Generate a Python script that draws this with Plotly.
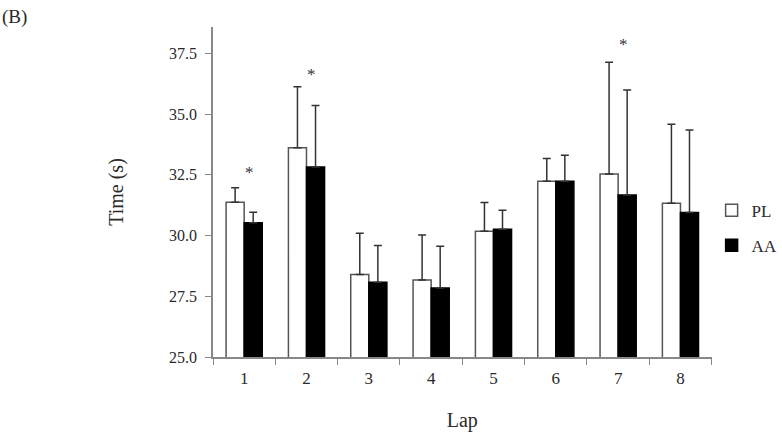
import plotly.graph_objects as go

# Lap times (s), mean and upper SD
laps = ["1", "2", "3", "4", "5", "6", "7", "8"]
pl_mean = [31.37, 33.62, 28.40, 28.17, 30.18, 32.24, 32.54, 31.33]
pl_sd = [0.60, 2.51, 1.70, 1.85, 1.18, 0.93, 4.60, 3.26]
aa_mean = [30.53, 32.82, 28.08, 27.84, 30.26, 32.24, 31.67, 30.95]
aa_sd = [0.43, 2.54, 1.51, 1.72, 0.78, 1.07, 4.33, 3.40]

# significance markers (*)
sig_laps = ["1", "2", "7"]
sig_y = [32.6, 36.65, 37.85]

serif = "Liberation Serif, Times New Roman, serif"
txt = "#2a2a2a"

fig = go.Figure()

fig.add_trace(go.Bar(
    x=laps, y=pl_mean, name="PL", legendgroup="pl",
    marker=dict(color="white", line=dict(color="#555555", width=1.5)),
    error_y=dict(type="data", array=pl_sd, arrayminus=[0] * len(laps),
                 symmetric=False, color="#333333", thickness=1.5, width=4),
))
fig.add_trace(go.Bar(
    x=laps, y=aa_mean, name="AA", legendgroup="aa",
    marker=dict(color="black", line=dict(color="black", width=1.5)),
    error_y=dict(type="data", array=aa_sd, arrayminus=[0] * len(laps),
                 symmetric=False, color="#333333", thickness=1.5, width=4),
))

# asterisks, placed by category index
for lap, yv in zip(sig_laps, sig_y):
    fig.add_annotation(x=laps.index(lap), y=yv, text="*", showarrow=False, xshift=5,
                       font=dict(family=serif, size=17, color="#333333"))

fig.add_annotation(x=-0.427, y=1.03, xref="paper", yref="paper",
                   xanchor="left", yanchor="middle", text="(B)", showarrow=False,
                   font=dict(family=serif, size=19, color=txt))

fig.update_layout(
    width=782, height=437,
    margin=dict(l=213, r=66, t=27, b=80),
    paper_bgcolor="white", plot_bgcolor="white",
    barmode="group", bargap=0.42, bargroupgap=0,
    font=dict(family=serif, size=16, color=txt),
    legend=dict(xref="container", yref="container", x=0.910, y=0.478,
                xanchor="left", yanchor="middle",
                font=dict(family=serif, size=17), tracegroupgap=10,
                itemwidth=30, bgcolor="rgba(0,0,0,0)"),
    showlegend=True,
)

fig.update_xaxes(
    type="category", title=dict(text="Lap", font=dict(size=20), standoff=26),
    automargin=False,
    showline=True, linecolor="#888888", linewidth=1.5,
    ticks="outside", tickson="boundaries", ticklen=6, tickcolor="#888888",
    tickfont=dict(size=17), ticklabelstandoff=5,
    showgrid=False, zeroline=False,
)
fig.update_yaxes(
    range=[25, 38.59], dtick=2.5, tick0=25, tickformat=".1f",
    title=dict(text="Time (s)", font=dict(size=20), standoff=40),
    automargin=False,
    showline=True, linecolor="#888888", linewidth=1.5,
    ticks="outside", ticklen=6, tickcolor="#888888",
    tickfont=dict(size=16), ticklabelstandoff=5,
    showgrid=False, zeroline=False,
)

fig.write_html("out.html", config={"displayModeBar": False},
               post_script="document.body.style.margin='0';")
